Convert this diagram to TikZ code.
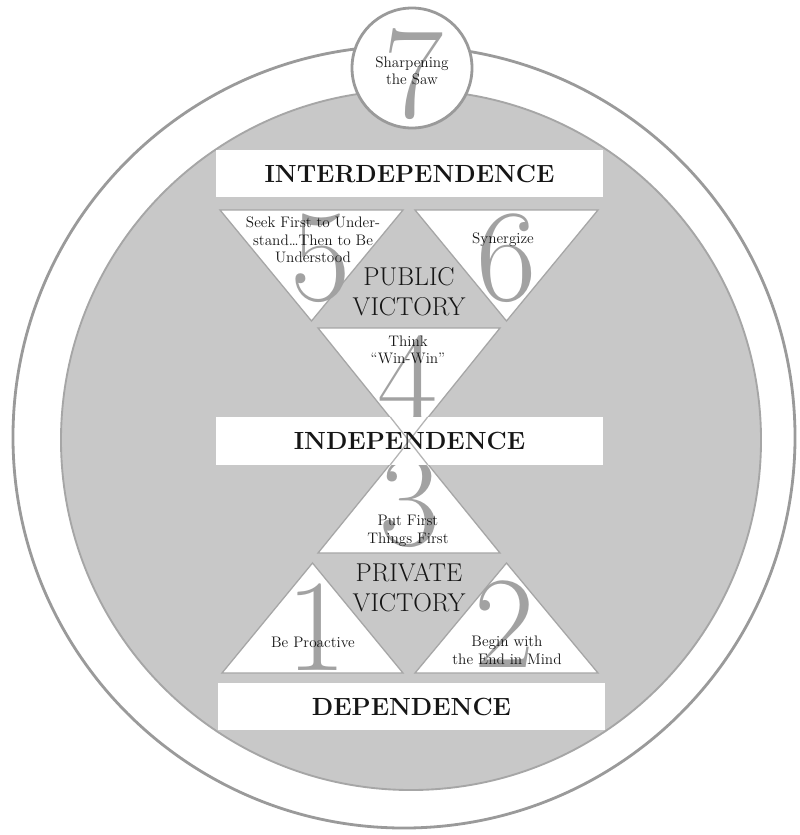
\documentclass[tikz,border=0pt]{standalone}
\usepackage{fontspec}
\definecolor{bggray}{HTML}{C8C8C8}
\definecolor{linegray}{HTML}{9A9A9A}
\definecolor{rimgray}{HTML}{A6A6A6}
\definecolor{digitgray}{HTML}{A2A2A2}
\definecolor{xgray}{HTML}{B4B4B4}
\definecolor{ink}{HTML}{161616}
\begin{document}
\begin{tikzpicture}[x=0.03cm,y=-0.03cm,
  tri/.style={fill=white,draw=rimgray,line width=1.1pt,line join=miter},
  bandfont/.style={text=ink,font=\fontsize{21.2}{24}\selectfont\bfseries},
  band/.style={fill=white,draw=none,inner sep=0pt,minimum width=11.61cm,minimum height=1.42cm,bandfont},
  victory/.style={font=\fontsize{22}{25.5}\selectfont,align=center,text=ink,inner sep=0pt},
  lbl/.style={font=\fontsize{13}{15}\selectfont,align=center,text=ink,inner sep=0pt},
  digit/.style={font=\fontsize{112}{112}\selectfont,text=digitgray,inner sep=0pt},
  xline/.style={draw=xgray,line width=1.1pt}
]
\useasboundingbox (0,0) rectangle (799,835);
% outer ring and gray disk
\draw[fill=white,draw=linegray,line width=2.4pt] (404,437) circle[radius=11.73cm];
\draw[fill=bggray,draw=rimgray,line width=1.6pt] (411,440) circle[radius=10.5cm];
% small circle at top
\draw[fill=white,draw=linegray,line width=2.4pt] (412,68) circle[radius=1.8cm];
\node[digit] (d7) at (414,74) {7};
\node[lbl] (saw) at (412,71) {Sharpening\\the Saw};
% triangles
\draw[tri] (220,210) -- (403,210) -- (311.5,321) -- cycle;
\draw[tri] (415,210) -- (598,210) -- (506.5,321) -- cycle;
\draw[tri] (318,328) -- (500,328) -- (409,441) -- cycle;
\draw[tri] (318,553) -- (500,553) -- (409,441) -- cycle;
\draw[tri] (222,673) -- (403,673) -- (312.5,563) -- cycle;
\draw[tri] (415,673) -- (598,673) -- (506.5,563) -- cycle;
% digits
\node[digit] (d5) at (321,258) {5};
\node[digit] (d6) at (507,258) {6};
\node[digit] (d4) at (408,380) {4};
\node[digit] (d3) at (410,503) {3};
\node[digit] (d1) at (317,627) {1};
\node[digit] (d2) at (505,624) {2};
% bands
\node[band] (inter) at (409.5,173.5) {INTERDEPENDENCE};
\node[band] (indep) at (409.5,441) {};
\draw[xline] (390.3,417) -- (427.9,465);
\draw[xline] (427.7,417) -- (390.1,465);
\node[bandfont,inner sep=0pt] (indept) at (indep.center) {INDEPENDENCE};
\node[band] (dep) at (411.5,706.5) {DEPENDENCE};
% victories
\node[victory] (pub) at (409,292) {PUBLIC\\VICTORY};
\node[victory] (priv) at (409,588) {PRIVATE\\VICTORY};
% habit labels
\node[lbl] (h5) at (313,240) {Seek First to Under-\\stand\ldots Then to Be\\Understood};
\node[lbl] (h6) at (503,240) {Synergize};
\node[lbl] (h4) at (408,350) {Think\\``Win-Win''};
\node[lbl] (h3) at (408,531) {Put First\\Things First};
\node[lbl] (h1) at (313,642) {Be Proactive};
\node[lbl] (h2) at (507,650) {Begin with\\the End in Mind};
\end{tikzpicture}
\end{document}
